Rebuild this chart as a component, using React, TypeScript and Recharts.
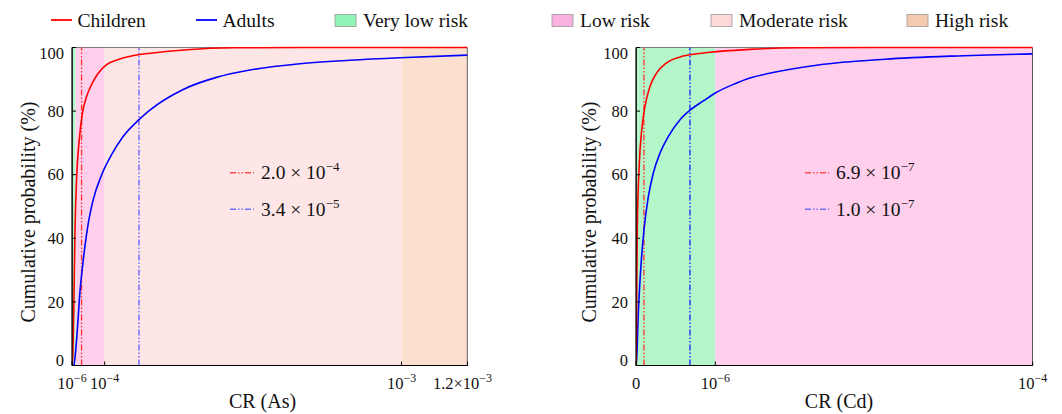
import React from 'react';
import { LineChart, Line, XAxis, YAxis, ReferenceArea, ReferenceLine } from 'recharts';

const FONT = '"Liberation Serif", "Times New Roman", serif';

// ---- shared ----
const yTicks = [0, 20, 40, 60, 80, 100];

// ---- As panel (linear CR axis) ----
const asDomain = [1e-6, 1.2e-3];
const asTicks = [1e-6, 1e-4, 1e-3, 1.2e-3];
const asTickLabels = [['10', '−6'], ['10', '−4'], ['10', '−3'], ['1.2×10', '−3']];
// risk bands: very low, low, moderate, high
const asBands = [1e-6, 1.2e-5, 1e-4, 1e-3, 1.2e-3];

const asChildrenCR = [1e-6, 4e-6, 7e-6, 1.0e-5, 1.5e-5, 2.3e-5, 3.2e-5, 4.5e-5, 6.1e-5, 8.1e-5, 1.06e-4, 1.46e-4, 2.07e-4, 2.38e-4, 3.5e-4, 4.9e-4, 7e-4, 1.2e-3];
const asChildrenP = [0, 5, 21, 42, 59, 71, 79, 84.5, 88.5, 92, 94.6, 96.4, 97.8, 98.2, 99.3, 99.9, 100, 100];

const asAdultsCR = [7e-6, 1.0e-5, 1.7e-5, 2.5e-5, 3.5e-5, 5.0e-5, 6.5e-5, 9.1e-5, 1.21e-4, 1.56e-4, 2.04e-4, 2.37e-4, 3.38e-4, 4.39e-4, 5.4e-4, 6.92e-4, 8.43e-4, 9.95e-4, 1.2e-3];
const asAdultsP = [0, 2.4, 11, 23, 33, 44.5, 52, 60, 66.3, 72, 77.3, 80.3, 86.8, 90.6, 92.9, 94.9, 96, 96.8, 97.6];

const asMarkers = [3.0e-5, 2.04e-4]; // children, adults
const asMarkerLabels = [['2.0 × 10', '−4'], ['3.4 × 10', '−5']];

// ---- Cd panel (piecewise CR axis: 0–1e-6 takes the first fifth) ----
const cdTicks = [0, 1e-6, 1e-4];
const cdTickLabels = [['0', ''], ['10', '−6'], ['10', '−4']];
const cdBands = [0, 1e-6, 1e-4];

const cdChildrenCR = [0, 5e-9, 9e-9, 1.6e-8, 4.2e-8, 7.2e-8, 1.13e-7, 1.77e-7, 2.61e-7, 3.87e-7, 5.96e-7, 9.33e-7, 1.18e-5, 2.74e-5, 5e-5, 1e-4];
const cdChildrenP = [0, 10, 21.7, 42.7, 63.7, 74, 81.5, 87.8, 92, 95.2, 97.3, 98.5, 99.4, 99.9, 100, 100];

const cdAdultsCR = [0, 9e-9, 2.9e-8, 5.9e-8, 1.01e-7, 1.55e-7, 2.18e-7, 3.03e-7, 4.07e-7, 5.55e-7, 6.81e-7, 8.49e-7, 1.0e-6, 7.1e-6, 1.18e-5, 1.75e-5, 3.31e-5, 5.39e-5, 7.47e-5, 1e-4];
const cdAdultsP = [0, 2.4, 16.4, 30, 42.7, 53, 60.5, 66.8, 72, 77.3, 80.3, 83.2, 85.7, 88.6, 90.4, 91.8, 94.5, 96.3, 97.3, 98];

const cdMarkers = [1.0e-7, 6.8e-7];
const cdMarkerLabels = [['6.9 × 10', '−7'], ['1.0 × 10', '−7']];

const cdU = (v: number) => Math.min(5, v <= 1e-6 ? v / 1e-6 : 1 + ((v - 1e-6) / 99e-6) * 4);

const legendItems = [
  { label: 'Children', kind: 'line', color: '#ff0000', x: 51 },
  { label: 'Adults', kind: 'line', color: '#0000ff', x: 196 },
  { label: 'Very low risk', kind: 'box', color: '#8ff5b6', x: 335 },
  { label: 'Low risk', kind: 'box', color: '#f9b2e0', x: 552 },
  { label: 'Moderate risk', kind: 'box', color: '#ffd9d9', x: 711 },
  { label: 'High risk', kind: 'box', color: '#f5cbb0', x: 907 },
];

const bandFill = {
  veryLow: '#b3f6ca',
  low: '#ffcfeb',
  moderate: '#ffe6e6',
  high: '#fbe0cf',
};

const DASH = '6 2 1.5 2 1.5 2';

const zip = (xs: number[], ys: number[], f: (v: number) => number = (v) => v) =>
  xs.map((v, i) => ({ x: f(v), y: ys[i] }));

const XTick = (props: any) => {
  const { x, y, index, labels, shift } = props;
  const lab = labels[index] || ['', ''];
  const dx = shift && shift[index] ? shift[index] : 0;
  return (
    <g>
      <line x1={x} x2={x} y1={y} y2={y - 4} stroke="#000" />
      <text x={x + dx} y={y + 23} textAnchor="middle" fontFamily={FONT} fontSize={16.5} fill="#111">
        {lab[0]}
        {lab[1] ? (
          <tspan dy={-7} fontSize={12}>
            {lab[1]}
          </tspan>
        ) : null}
      </text>
    </g>
  );
};

const YTick = (props: any) => {
  const { x, y, payload } = props;
  const v = payload.value;
  const shift = v === 0 ? -5 : v === 100 ? 6 : 0;
  return (
    <g>
      <line x1={x} x2={x + 4} y1={y} y2={y} stroke="#000" />
      <text x={x - 8} y={y + shift} dy="0.35em" textAnchor="end" fontFamily={FONT} fontSize={16.5} fill="#111">
        {v}
      </text>
    </g>
  );
};

const MarkerLegend = ({ x, labels, colors }: { x: number; labels: string[][]; colors: string[] }) => (
  <g>
    {labels.map((lab, i) => {
      const cy = 172.7 + i * 36.6;
      return (
        <g key={i}>
          <line x1={x} x2={x + 24} y1={cy} y2={cy} stroke={colors[i]} strokeWidth={1.5} strokeDasharray={DASH} />
          <text x={x + 31} y={cy + 6.5} fontFamily={FONT} fontSize={19.5} fill="#111">
            {lab[0]}
            <tspan dy={-8} fontSize={13}>
              {lab[1]}
            </tspan>
          </text>
        </g>
      );
    })}
  </g>
);

export default function App() {
  const asChildren = zip(asChildrenCR, asChildrenP);
  const asAdults = zip(asAdultsCR, asAdultsP);
  const cdChildren = zip(cdChildrenCR, cdChildrenP, cdU);
  const cdAdults = zip(cdAdultsCR, cdAdultsP, cdU);

  return (
    <div style={{ position: 'absolute', left: 0, top: 0, width: 1062, height: 414, background: '#fff', overflow: 'hidden' }}>
      {/* As panel */}
      <div style={{ position: 'absolute', left: 0, top: 0 }}>
        <LineChart width={530} height={414} margin={{ top: 47.5, right: 62.5, bottom: 8, left: 32 }}>
          <XAxis
            type="number"
            dataKey="x"
            domain={asDomain}
            ticks={asTicks}
            interval={0}
            allowDataOverflow
            tickSize={0}
            tickMargin={0}
            height={40.5}
            axisLine={{ stroke: '#000', strokeWidth: 1.2 }}
            tickLine={false}
            tick={<XTick labels={asTickLabels} shift={[0, 0, 0, -5]} />}
          />
          <YAxis
            type="number"
            domain={[0, 100]}
            ticks={yTicks}
            interval={0}
            width={40}
            tickSize={0}
            tickMargin={0}
            axisLine={{ stroke: '#000', strokeWidth: 1.2 }}
            tickLine={false}
            tick={<YTick />}
          />
          <ReferenceArea x1={asBands[0]} x2={asBands[1]} y1={0} y2={100} ifOverflow="hidden" fill={bandFill.veryLow} fillOpacity={1} stroke="none" />
          <ReferenceArea x1={asBands[1]} x2={asBands[2]} y1={0} y2={100} ifOverflow="hidden" fill={bandFill.low} fillOpacity={1} stroke="none" />
          <ReferenceArea x1={asBands[2]} x2={asBands[3]} y1={0} y2={100} ifOverflow="hidden" fill={bandFill.moderate} fillOpacity={1} stroke="none" />
          <ReferenceArea x1={asBands[3]} x2={asBands[4]} y1={0} y2={100} ifOverflow="hidden" fill={bandFill.high} fillOpacity={1} stroke="none" />
          <ReferenceLine x={asMarkers[0]} stroke="#ff3030" strokeWidth={1.3} strokeDasharray={DASH} />
          <ReferenceLine x={asMarkers[1]} stroke="#5a5aff" strokeWidth={1.3} strokeDasharray={DASH} />
          <Line data={asAdults} dataKey="y" type="monotone" stroke="#0000ff" strokeWidth={1.6} dot={false} isAnimationActive={false} />
          <Line data={asChildren} dataKey="y" type="monotone" stroke="#ff0000" strokeWidth={1.6} dot={false} isAnimationActive={false} />
          <ReferenceArea x1={asDomain[0]} x2={asDomain[1]} y1={0} y2={100} ifOverflow="hidden" fill="none" fillOpacity={0} stroke="#000" strokeWidth={1.2} />
        </LineChart>
      </div>

      {/* Cd panel */}
      <div style={{ position: 'absolute', left: 540, top: 0 }}>
        <LineChart width={522} height={414} margin={{ top: 47.5, right: 29.3, bottom: 8, left: 56 }}>
          <XAxis
            type="number"
            dataKey="x"
            domain={[0, 5]}
            ticks={cdTicks.map(cdU)}
            interval={0}
            allowDataOverflow
            tickSize={0}
            tickMargin={0}
            height={40.5}
            axisLine={{ stroke: '#000', strokeWidth: 1.2 }}
            tickLine={false}
            tick={<XTick labels={cdTickLabels} />}
          />
          <YAxis
            type="number"
            domain={[0, 100]}
            ticks={yTicks}
            interval={0}
            width={40}
            tickSize={0}
            tickMargin={0}
            axisLine={{ stroke: '#000', strokeWidth: 1.2 }}
            tickLine={false}
            tick={<YTick />}
          />
          <ReferenceArea x1={cdU(cdBands[0])} x2={cdU(cdBands[1])} y1={0} y2={100} ifOverflow="hidden" fill={bandFill.veryLow} fillOpacity={1} stroke="none" />
          <ReferenceArea x1={cdU(cdBands[1])} x2={cdU(cdBands[2])} y1={0} y2={100} ifOverflow="hidden" fill={bandFill.low} fillOpacity={1} stroke="none" />
          <ReferenceLine x={cdU(cdMarkers[0])} stroke="#ff3030" strokeWidth={1.3} strokeDasharray={DASH} />
          <ReferenceLine x={cdU(cdMarkers[1])} stroke="#1a1aff" strokeWidth={1.3} strokeDasharray={DASH} />
          <Line data={cdAdults} dataKey="y" type="monotone" stroke="#0000ff" strokeWidth={1.6} dot={false} isAnimationActive={false} />
          <Line data={cdChildren} dataKey="y" type="monotone" stroke="#ff0000" strokeWidth={1.6} dot={false} isAnimationActive={false} />
          <ReferenceArea x1={0} x2={5} y1={0} y2={100} ifOverflow="hidden" fill="none" fillOpacity={0} stroke="#000" strokeWidth={1.2} />
        </LineChart>
      </div>

      {/* legend, titles and marker notes */}
      <svg width={1062} height={414} style={{ position: 'absolute', left: 0, top: 0, pointerEvents: 'none' }}>
        {legendItems.map((it) => (
          <g key={it.label}>
            {it.kind === 'line' ? (
              <line x1={it.x} x2={it.x + 21} y1={20} y2={20} stroke={it.color} strokeWidth={1.8} />
            ) : (
              <rect x={it.x} y={14.5} width={21} height={12} fill={it.color} stroke="#999" strokeWidth={0.8} />
            )}
            <text x={it.x + (it.kind === 'line' ? 26.5 : 28)} y={27} fontFamily={FONT} fontSize={19.5} fill="#111">
              {it.label}
            </text>
          </g>
        ))}

        <text transform="translate(34.5,212) rotate(-90)" textAnchor="middle" fontFamily={FONT} fontSize={20} fill="#111">
          Cumulative probability (%)
        </text>
        <text transform="translate(596,212) rotate(-90)" textAnchor="middle" fontFamily={FONT} fontSize={20} fill="#111">
          Cumulative probability (%)
        </text>
        <text x={262.5} y={408} textAnchor="middle" fontFamily={FONT} fontSize={20} fill="#111">
          CR (As)
        </text>
        <text x={839} y={408} textAnchor="middle" fontFamily={FONT} fontSize={20} fill="#111">
          CR (Cd)
        </text>

        <MarkerLegend x={230} labels={asMarkerLabels} colors={['#ff5050', '#7070ff']} />
        <MarkerLegend x={805} labels={cdMarkerLabels} colors={['#ff5050', '#7070ff']} />
      </svg>
    </div>
  );
}
